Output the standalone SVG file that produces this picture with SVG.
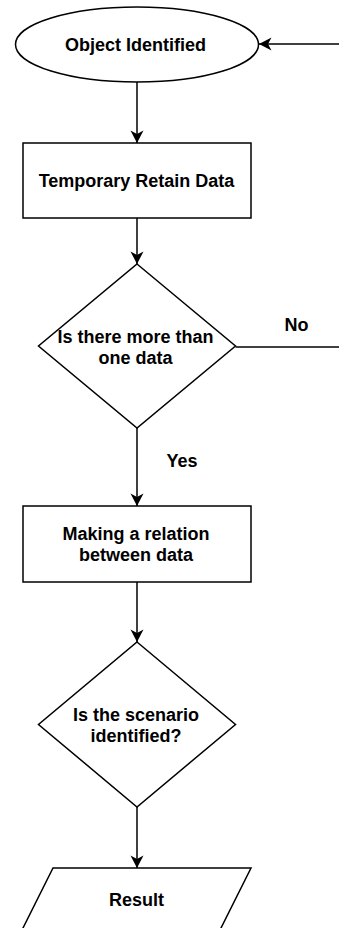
<svg xmlns="http://www.w3.org/2000/svg" width="339" height="928" viewBox="0 0 339 928">
<style>
.shape{fill:#fff;stroke:#000;stroke-width:1.5}
.edge{fill:none;stroke:#000;stroke-width:1.5}
.lbl{font-family:"Liberation Sans",Arial,Helvetica,sans-serif;font-size:18px;font-weight:bold;fill:#000;text-anchor:middle}
</style>
<defs>
<marker id="arr" viewBox="-14 -8 16 16" refX="0" refY="0" markerWidth="16" markerHeight="16" markerUnits="userSpaceOnUse" orient="auto">
<path d="M0,0 L-12.5,-6.5 L-9,0 L-12.5,6.5 Z" fill="#000"/>
</marker>
</defs>
<g id="connectors">
<path class="edge" d="M137,82 L137,143" marker-end="url(#arr)"/>
<path class="edge" d="M339,44 L259,44" marker-end="url(#arr)"/>
<path class="edge" d="M137,218 L137,264" marker-end="url(#arr)"/>
<path class="edge" d="M235.5,347 L339,347"/>
<text class="lbl" x="296.5" y="331">No</text>
<path class="edge" d="M137,428 L137,506" marker-end="url(#arr)"/>
<text class="lbl" x="182" y="467">Yes</text>
<path class="edge" d="M137,582 L137,642" marker-end="url(#arr)"/>
<path class="edge" d="M137,807 L137,868" marker-end="url(#arr)"/>
</g>
<g id="object-identified">
<ellipse class="shape" cx="137" cy="44.5" rx="121.5" ry="37.5"/>
<text class="lbl" x="135.5" y="51">Object Identified</text>
</g>
<g id="temporary-retain-data">
<rect class="shape" x="23" y="143" width="228" height="75"/>
<text class="lbl" x="136.5" y="187">Temporary Retain Data</text>
</g>
<g id="more-than-one-data">
<polygon class="shape" points="137,264 235.5,346 137,428 38.5,346"/>
<text class="lbl" x="135.5" y="343">Is there more than</text>
<text class="lbl" x="135.5" y="364">one data</text>
</g>
<g id="making-relation">
<rect class="shape" x="23" y="506" width="228" height="76"/>
<text class="lbl" x="136" y="540">Making a relation</text>
<text class="lbl" x="136" y="561">between data</text>
</g>
<g id="scenario-identified">
<polygon class="shape" points="137,642 235.5,724.5 137,807 38.5,724.5"/>
<text class="lbl" x="136" y="721">Is the scenario</text>
<text class="lbl" x="136" y="742">identified?</text>
</g>
<g id="result">
<polygon class="shape" points="53,868 251,868 220,930 22,930"/>
<text class="lbl" x="136.5" y="906">Result</text>
</g>
</svg>
